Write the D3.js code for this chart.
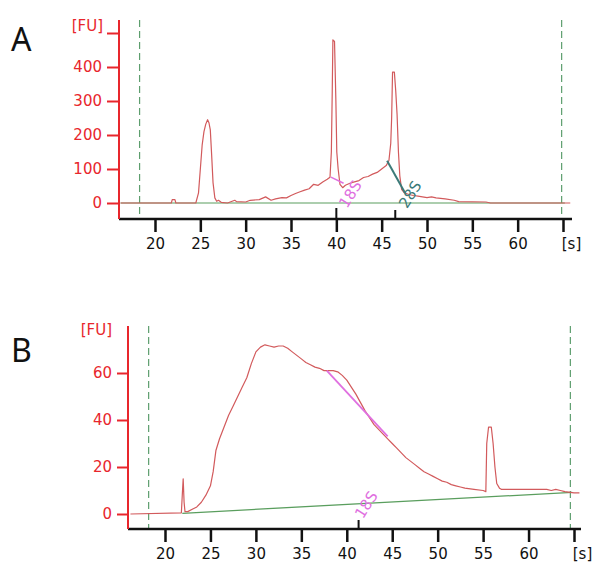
<!DOCTYPE html>
<html><head><meta charset="utf-8">
<script src="https://cdn.jsdelivr.net/npm/d3@7"></script>
<style>
html,body{margin:0;padding:0;background:#fff;}
svg{display:block;}
</style>
</head><body>
<svg id="c" width="600" height="588"></svg>
<script>
// ---- data ----
const xTicks = [20, 25, 30, 35, 40, 45, 50, 55, 60, 65];
const xTickLabels = ["20", "25", "30", "35", "40", "45", "50", "55", "60", "[s]"];
const yTicksA = [0, 100, 200, 300, 400, 500];
const yTickLabelsA = ["0", "100", "200", "300", "400", ""];
const yTicksB = [0, 20, 40, 60];
const yTickLabelsB = ["0", "20", "40", "60"];

// Panel A electropherogram (time [s], fluorescence [FU])
const traceA = [[16.2,0],[21.8,0],[21.9,10],[22.2,10],[22.3,0],[24.5,0],[24.8,30],[25.0,100],[25.2,170],[25.4,210],
[25.6,232],[25.8,245],[25.95,236],[26.1,215],[26.25,140],[26.4,60],[26.6,15],[26.8,5],[27,8],[27.3,2],[28,0],
[28.8,8],[29,4],[30,3],[30.5,8],[31.5,10],[32.2,18],[32.8,8],[33.3,12],[34,16],[34.5,15],[35,22],[35.5,28],[36,33],
[36.5,38],[37,42],[37.5,55],[38,52],[38.5,62],[39,70],[39.3,76],[39.45,150],[39.55,330],[39.62,480],[39.8,475],
[39.95,300],[40.05,150],[40.2,100],[40.4,55],[40.7,45],[41,52],[41.5,58],[42,62],[42.5,66],[43,75],[43.5,78],[44,85],
[44.5,90],[45,100],[45.5,110],[45.8,125],[46.0,175],[46.1,250],[46.2,385],[46.4,385],[46.55,330],[46.7,260],[46.85,150],
[47,80],[47.2,40],[47.5,30],[48,25],[48.5,22],[49,20],[49.5,18],[50,16],[50.5,18],[51,15],[52,12],[53,8],[53.5,4],
[56.5,3],[57,0],[65.8,0]];
const baselineA = [[16.2,0],[65.2,0]];
const markerA18S = [[39.4,76],[40.8,58]];
const markerA28S = [[45.6,124],[47.6,29]];
const markerTicksA = [40, 46.5];
const windowA = [18.3, 64.85];

// Panel B electropherogram
const traceB = [[16.2,0],[21.8,0.5],[21.9,8],[22.0,15],[22.1,5],[22.2,1],[22.5,1],[23,2],[23.5,3],[24,5],[24.5,8],[25,12],
[25.3,18],[25.6,27],[26,32],[26.5,37],[27,42],[27.5,46],[28,50],[28.5,54],[29,58],[29.5,64],[30,69],[30.5,71],[31,72],
[31.5,71.5],[32,71],[32.5,71.5],[33,71.5],[33.5,70.5],[34,69],[34.5,67.5],[35,66],[35.5,64.5],[36,63.5],[36.5,62.5],
[37,62],[37.5,61],[38,61],[38.5,61],[39,60.5],[39.5,59],[40,57],[40.5,54],[41,51],[41.5,47.5],[42,44],[42.5,41],
[43,38],[43.5,36],[44,34],[44.5,32],[45,30],[45.5,28],[46,26],[46.5,24],[47,22.5],[47.5,21],[48,19.5],[48.5,18],
[49,17],[49.5,16],[50,15],[50.5,14],[51,13.5],[51.5,12.5],[52,12],[52.5,11.5],[53,11],[54,10.5],[55,10],[55.3,9.5],
[55.4,30],[55.6,37],[55.9,37],[56.1,30],[56.3,20],[56.5,13],[56.8,11],[57,10.5],[58,10.5],[60,10.5],[62,10.5],
[62.5,10],[63,10.5],[63.5,10],[64,9.5],[65,9],[65.6,9]];
const baselineB = [[21.9,0.3],[64.8,9.2]];
const markerB18S = [[37.8,61],[44.5,33]];
const markerTicksB = [41.3];
const windowB = [18.2, 64.6];

// ---- drawing ----
const svg = d3.select("#c");
const RED_AX = "#e8262c", TRACE = "#d25a5c", GREEN = "#5a9e5e", DASH = "#5e9e6e";
const MAGENTA = "#e070e0", TEAL = "#3b7a78";
const FONT = "DejaVu Sans";

function panel(cfg) {
  const g = svg.append("g");
  const x = d3.scaleLinear().domain([20, 65]).range(cfg.xr);
  const y = d3.scaleLinear().domain(cfg.yd).range(cfg.yr);
  const line = d3.line().x(d => x(d[0])).y(d => y(d[1]));

  // dashed window lines
  cfg.win.forEach(w => {
    g.append("line").attr("x1", x(w)).attr("x2", x(w))
      .attr("y1", cfg.axTop).attr("y2", cfg.axY)
      .attr("stroke", DASH).attr("stroke-width", 1.2).attr("stroke-dasharray", "7,4");
  });

  // baseline
  g.append("path").datum(cfg.base).attr("d", line).attr("fill", "none")
    .attr("stroke", GREEN).attr("stroke-width", 1.2);
  // trace
  g.append("path").datum(cfg.trace).attr("d", line).attr("fill", "none")
    .attr("stroke", TRACE).attr("stroke-width", 1.2).attr("stroke-linejoin", "round");

  // markers
  cfg.markers.forEach(m => {
    g.append("path").datum(m.pts).attr("d", line).attr("fill", "none")
      .attr("stroke", m.color).attr("stroke-width", m.w);
  });
  cfg.labels.forEach(l => {
    g.append("text").attr("transform", `translate(${x(l.t)},${y(l.v)}) rotate(-58)`)
      .attr("text-anchor", "middle").attr("dominant-baseline", "middle")
      .attr("font-family", FONT).attr("font-size", 15).attr("fill", l.color).text(l.text);
  });

  // x axis
  const xa = d3.axisBottom(x).tickValues(xTicks).tickSize(13).tickPadding(6)
    .tickFormat((d, i) => xTickLabels[i]);
  const gx = g.append("g").attr("transform", `translate(0,${cfg.axY})`).call(xa);
  gx.select(".domain").remove();
  gx.selectAll(".tick line").attr("stroke", "#111").attr("stroke-width", 2.5);
  gx.selectAll(".tick text").attr("font-family", FONT).attr("font-size", 15).attr("fill", "#111");
  gx.selectAll(".tick text").filter((d, i) => i === xTicks.length - 1).attr("dx", 8);
  g.append("line").attr("x1", cfg.axLeft).attr("x2", cfg.axRight).attr("y1", cfg.axY).attr("y2", cfg.axY)
    .attr("stroke", "#111").attr("stroke-width", 2.5);
  cfg.mticks.forEach((t, i) => {
    g.append("line").attr("x1", x(t)).attr("x2", x(t)).attr("y1", cfg.axY).attr("y2", cfg.axY - cfg.mlen[i])
      .attr("stroke", "#111").attr("stroke-width", 2);
  });

  // y axis
  const ya = d3.axisLeft(y).tickValues(cfg.yticks).tickSize(cfg.ytl).tickPadding(5)
    .tickFormat((d, i) => cfg.ylabels[i]);
  const gy = g.append("g").attr("transform", `translate(${cfg.axLeft},0)`).call(ya);
  gy.select(".domain").remove();
  gy.selectAll(".tick line").attr("stroke", RED_AX).attr("stroke-width", 2);
  gy.selectAll(".tick text").attr("font-family", FONT).attr("font-size", 15).attr("fill", RED_AX);
  g.append("line").attr("x1", cfg.axLeft).attr("x2", cfg.axLeft).attr("y1", cfg.axTop).attr("y2", cfg.axY)
    .attr("stroke", RED_AX).attr("stroke-width", 2);
  g.append("text").attr("x", cfg.fuX).attr("y", cfg.fuY).attr("text-anchor", "end")
    .attr("font-family", FONT).attr("font-size", 15).attr("fill", RED_AX).text("[FU]");

  // panel letter
  g.append("text").attr("x", 11).attr("y", cfg.letterY).attr("font-family", "Noto Sans")
    .attr("font-size", 32).attr("fill", "#111").text(cfg.letter);
}

panel({
  letter: "A", letterY: 51,
  xr: [155, 563], yd: [0, 500], yr: [203, 33],
  axLeft: 119, axRight: 572, axY: 219, axTop: 20,
  trace: traceA, base: baselineA, win: windowA,
  markers: [{pts: markerA18S, color: MAGENTA, w: 1.5}, {pts: markerA28S, color: TEAL, w: 2}],
  labels: [{t: 41.6, v: 25, text: "18S", color: MAGENTA}, {t: 48.2, v: 24, text: "28S", color: TEAL}],
  mticks: markerTicksA, mlen: [11, 9],
  yticks: yTicksA, ylabels: yTickLabelsA, ytl: 12, fuX: 103, fuY: 31
});

panel({
  letter: "B", letterY: 362,
  xr: [165, 574], yd: [0, 60], yr: [514, 373],
  axLeft: 128, axRight: 581, axY: 529, axTop: 326,
  trace: traceB, base: baselineB, win: windowB,
  markers: [{pts: markerB18S, color: MAGENTA, w: 1.8}],
  labels: [{t: 42.2, v: 3.8, text: "18S", color: MAGENTA}],
  mticks: markerTicksB, mlen: [9],
  yticks: yTicksB, ylabels: yTickLabelsB, ytl: 11, fuX: 112, fuY: 335
});
</script>
</body></html>
